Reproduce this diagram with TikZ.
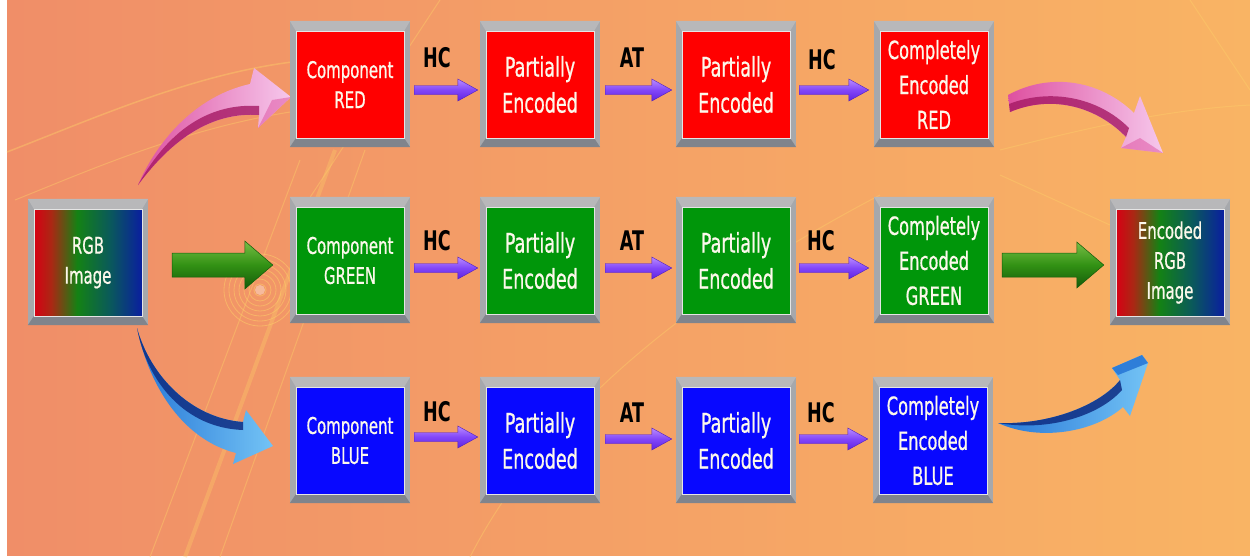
\documentclass[tikz,border=0pt]{standalone}
\usepackage{fontspec}
\setmainfont{DejaVu Sans}[FakeStretch=0.65]
\newfontfamily\boxfont{DejaVu Sans}[FakeStretch=0.65, FakeBold=0.7]
\usetikzlibrary{calc}

\definecolor{bgL}{RGB}{240,142,104}
\definecolor{bgR}{RGB}{249,180,100}
\definecolor{bevT}{RGB}{184,184,186}
\definecolor{bevS}{RGB}{166,168,172}
\definecolor{bevB}{RGB}{128,132,140}
\definecolor{boxR}{RGB}{255,0,0}
\definecolor{boxG}{RGB}{0,150,10}
\definecolor{boxB}{RGB}{8,8,255}
\definecolor{purL}{RGB}{185,140,255}
\definecolor{purM}{RGB}{130,70,248}
\definecolor{purD}{RGB}{95,35,225}
\definecolor{grnL}{RGB}{120,190,70}
\definecolor{grnM}{RGB}{50,145,20}
\definecolor{grnD}{RGB}{20,90,10}
\definecolor{pinkL}{RGB}{246,200,236}
\definecolor{pinkM}{RGB}{222,80,160}
\definecolor{pinkD}{RGB}{165,25,100}
\definecolor{bluL}{RGB}{115,195,245}
\definecolor{bluM}{RGB}{40,120,215}
\definecolor{bluD}{RGB}{15,45,130}
\definecolor{deco}{RGB}{253,205,105}
\definecolor{txtW}{RGB}{252,248,235}
\definecolor{sR}{RGB}{215,0,20}
\definecolor{sR2}{RGB}{170,40,20}
\definecolor{sG}{RGB}{20,130,20}
\definecolor{sT}{RGB}{10,90,90}
\definecolor{sB}{RGB}{10,30,160}

\pgfdeclarehorizontalshading{rgbshade}{100bp}{color(0bp)=(sR); color(25bp)=(sR); color(33bp)=(sR2); color(45bp)=(sG); color(60bp)=(sT); color(75bp)=(sB); color(100bp)=(sB)}

\tikzset{
  outerbox/.style={minimum width=120pt, minimum height=126pt, inner sep=0pt, fill=bevS},
  innerbox/.style={minimum width=108pt, minimum height=107pt, inner sep=0pt, draw=white!80!gray, line width=0.8pt, text=txtW, align=center},
  fsA/.style={font=\boxfont\fontsize{23}{30}\selectfont},
  fsP/.style={font=\boxfont\fontsize{27}{36}\selectfont},
  fsC/.style={font=\boxfont\fontsize{25}{35}\selectfont},
  lbl/.style={font=\bfseries\fontsize{27}{27}\selectfont, text=black, inner sep=0pt},
  purarrow/.style={top color=purL, bottom color=purD, middle color=purM, draw=purD!85!black, line width=0.4pt},
  grnarrow/.style={top color=grnL, bottom color=grnD, middle color=grnM, draw=grnD, line width=0.5pt},
  decoline/.style={draw=deco, opacity=0.45, line width=1.5pt},
}

% #1 name, #2 x, #3 y, #4 fill options, #5 font style, #6 text
\newcommand\bevbox[6]{%
  \node[outerbox] (#1) at (#2,#3) {};
  \fill[bevT] (#1.north west) -- (#1.north east) -- ($(#1.north east)+(-6,10)$) -- ($(#1.north west)+(6,10)$) -- cycle;
  \fill[bevB] (#1.south west) -- (#1.south east) -- ($(#1.south east)+(-6,-9)$) -- ($(#1.south west)+(6,-9)$) -- cycle;
  \node[innerbox, #4, #5] (#1in) at ($(#1.center)+(0,0.5)$) {#6};
}

% #1 style, #2 from, #3 to, #4 dy, #5 half shaft, #6 half head, #7 head length, #8 start gap, #9 end gap
\newcommand\blockarrow[9]{%
  \path[#1] ($(#2.east)+(#8,#4-#5)$) -- ($(#3.west |- #2.east)+(-#9-#7,#4-#5)$)
    -- ($(#3.west |- #2.east)+(-#9-#7,#4-#6)$) -- ($(#3.west |- #2.east)+(-#9,#4)$)
    -- ($(#3.west |- #2.east)+(-#9-#7,#4+#6)$) -- ($(#3.west |- #2.east)+(-#9-#7,#4+#5)$)
    -- ($(#2.east)+(#8,#4+#5)$) -- cycle;
}

\begin{document}
\begin{tikzpicture}[x=1pt, y=-1pt]
\useasboundingbox (0,0) rectangle (1250,557);
\fill[white] (0,0) rectangle (1250,557);
\shade[left color=bgL, right color=bgR] (7,0) rectangle (1250,555);

% background decoration
\draw[decoline] (7,152) .. controls (90,120) and (190,75) .. (292,62);
\draw[decoline, line width=1pt] (15,200) .. controls (90,170) and (180,130) .. (290,112);
\draw[decoline, line width=1pt] (440,0) -- (305,205);
\draw[decoline, line width=4pt, opacity=0.35] (335,150) -- (185,557);
\draw[decoline, line width=1pt] (365,150) -- (220,557);
\draw[decoline, line width=1pt] (300,160) -- (150,557);
\draw[decoline, line width=1pt] (470,557) .. controls (540,420) and (680,300) .. (880,195);
\draw[decoline, line width=1pt] (1000,150) .. controls (1080,130) and (1160,110) .. (1250,105);
\draw[decoline, line width=1pt] (1000,175) -- (1110,225);
\draw[decoline, line width=1pt] (1190,0) -- (1250,90);
\foreach \r in {6,11,16,21,26,31,36}
  \draw[draw=deco, opacity=0.55, line width=0.8pt] (260,290) circle[radius=\r pt];
\fill[white, opacity=0.35] (260,290) circle[radius=5pt];

% curved arrows
\path[left color=pinkM, right color=pinkL] (138,185) .. controls (160,135) and (200,95) .. (250,84)
  -- (254,68) -- (291,97) -- (258,128) -- (259,115) .. controls (215,112) and (175,135) .. (138,185) -- cycle;
\fill[pinkD, opacity=0.8] (138,185) .. controls (175,135) and (215,112) .. (259,115) -- (259,106)
  .. controls (212,103) and (170,127) .. (138,185) -- cycle;
\fill[pinkM, opacity=0.5] (258,128) -- (291,97) -- (272,100) -- cycle;

\path[left color=pinkM, right color=pinkL] (1008,95) .. controls (1050,72) and (1100,80) .. (1134,113)
  -- (1140,96) -- (1163,153) -- (1121,148) -- (1126,137) .. controls (1095,105) and (1050,95) .. (1010,112) -- cycle;
\fill[pinkD, opacity=0.8] (1010,112) .. controls (1050,95) and (1095,105) .. (1126,137) -- (1129,128)
  .. controls (1098,97) and (1050,88) .. (1009,104) -- cycle;
\fill[pinkM, opacity=0.5] (1121,148) -- (1163,153) -- (1140,138) -- cycle;

\path[left color=bluM, right color=bluL] (137,328) .. controls (150,375) and (190,418) .. (243,422)
  -- (246,410) -- (273,446) -- (233,464) -- (236,453) .. controls (185,440) and (150,390) .. (137,328) -- cycle;
\fill[bluD, opacity=0.85] (137,328) .. controls (150,375) and (190,418) .. (243,422) -- (243,430)
  .. controls (185,428) and (147,382) .. (137,328) -- cycle;

\path[left color=bluM, right color=bluL] (998,423) .. controls (1050,425) and (1100,405) .. (1120,380)
  -- (1112,368) -- (1142,355) -- (1148,363) -- (1130,416) -- (1123,407)
  .. controls (1095,432) and (1040,442) .. (998,423) -- cycle;
\fill[bluD, opacity=0.85] (998,423) .. controls (1050,425) and (1100,405) .. (1120,380) -- (1122,390)
  .. controls (1100,415) and (1050,432) .. (998,423) -- cycle;
\fill[bluM, opacity=0.9] (1112,368) -- (1142,355) -- (1148,363) -- (1118,375) -- cycle;

% boxes
\bevbox{rgb}{88}{262}{shade, shading=rgbshade}{fsA}{RGB\\Image}
\bevbox{enc}{1170}{262}{shade, shading=rgbshade}{fsA}{Encoded\\RGB\\Image}

\bevbox{cr}{350}{84}{fill=boxR}{fsA}{Component\\RED}
\bevbox{pr1}{540}{84}{fill=boxR}{fsP}{Partially\\Encoded}
\bevbox{pr2}{736}{84}{fill=boxR}{fsP}{Partially\\Encoded}
\bevbox{er}{934}{84}{fill=boxR}{fsC}{Completely\\Encoded\\RED}

\bevbox{cg}{350}{260}{fill=boxG}{fsA}{Component\\GREEN}
\bevbox{pg1}{540}{260}{fill=boxG}{fsP}{Partially\\Encoded}
\bevbox{pg2}{736}{260}{fill=boxG}{fsP}{Partially\\Encoded}
\bevbox{eg}{934}{260}{fill=boxG}{fsC}{Completely\\Encoded\\GREEN}

\bevbox{cb}{350}{440}{fill=boxB}{fsA}{Component\\BLUE}
\bevbox{pb1}{540}{440}{fill=boxB}{fsP}{Partially\\Encoded}
\bevbox{pb2}{736}{440}{fill=boxB}{fsP}{Partially\\Encoded}
\bevbox{eb}{933}{440}{fill=boxB}{fsC}{Completely\\Encoded\\BLUE}

% block arrows
\blockarrow{purarrow}{cr}{pr1}{6}{4.5}{11}{20}{4}{2}
\blockarrow{purarrow}{pr1}{pr2}{6}{4.5}{11}{20}{5}{4}
\blockarrow{purarrow}{pr2}{er}{6}{4.5}{11}{20}{3}{5}
\blockarrow{purarrow}{cg}{pg1}{8}{4.5}{11}{20}{4}{2}
\blockarrow{purarrow}{pg1}{pg2}{8}{4.5}{11}{20}{5}{4}
\blockarrow{purarrow}{pg2}{eg}{8}{4.5}{11}{20}{3}{5}
\blockarrow{purarrow}{cb}{pb1}{-3}{4.5}{11}{20}{4}{2}
\blockarrow{purarrow}{pb1}{pb2}{-1}{4.5}{11}{20}{5}{4}
\blockarrow{purarrow}{pb2}{eb}{-1}{4.5}{11}{20}{3}{5}

\blockarrow{grnarrow}{rgb}{cg}{3}{12}{24}{28}{24}{17}
\blockarrow{grnarrow}{eg}{enc}{5}{12}{23}{27}{8}{6}

% labels
\node[lbl] (l1) at (437,58) {HC};
\node[lbl] (l2) at (632,58) {AT};
\node[lbl] (l3) at (822,60) {HC};
\node[lbl] (l4) at (437,241) {HC};
\node[lbl] (l5) at (632,241) {AT};
\node[lbl] (l6) at (821,241) {HC};
\node[lbl] (l7) at (437,412) {HC};
\node[lbl] (l8) at (632,413) {AT};
\node[lbl] (l9) at (821,413) {HC};
\end{tikzpicture}
\end{document}
